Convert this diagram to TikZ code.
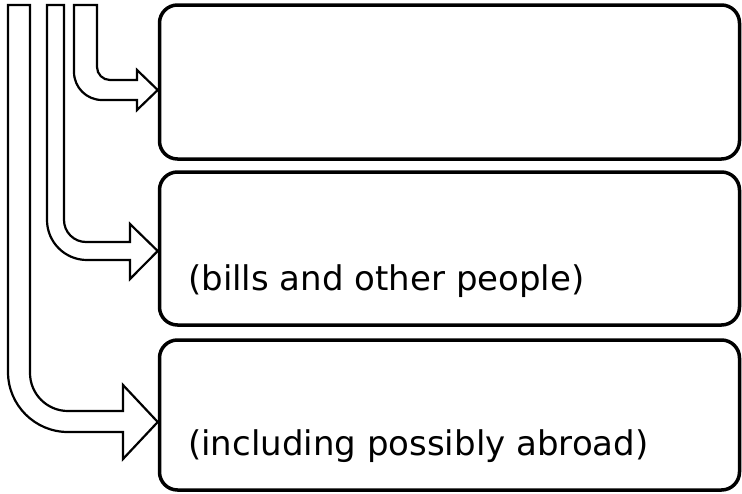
\documentclass[tikz,border=0pt]{standalone}
\usepackage{fontspec}
\setmainfont{DejaVu Sans}
\begin{document}
\begin{tikzpicture}[x=1pt,y=-1pt,
  box/.style={draw=black,line width=3.5pt,rounded corners=18pt,rectangle,inner sep=0pt,minimum width=580pt},
  blockarrow/.style={draw=black,line width=2.2pt,fill=white,line join=miter},
  txt/.style={anchor=base west,inner sep=0pt,font=\fontsize{34}{40}\selectfont}]
\useasboundingbox (0,0) rectangle (742,493);
% boxes
\node[box,minimum height=154pt] (b1) at (449.5,82) {};
\node[box,minimum height=153pt] (b2) at (449.5,248.5) {};
\node[box,minimum height=150pt] (b3) at (449.5,415) {};
\node[txt] (t2) at (188,290) {(bills and other people)};
\node[txt] (t3) at (188,455) {(including possibly abroad)};
% arrow 1
\draw[blockarrow] (74,5) -- (74,72) arc[start angle=180,end angle=90,radius=28]
  -- (137,100) -- (137,110) -- (b1.west |- 0,90) -- (137,70) -- (137,80) -- (110,80)
  arc[start angle=90,end angle=180,radius=13] -- (97,5) -- cycle;
% arrow 2
\draw[blockarrow] (47,5) -- (47,220) arc[start angle=180,end angle=90,radius=40]
  -- (130,260) -- (130,279) -- (b2.west |- 0,251) -- (130,224) -- (130,242) -- (86,242)
  arc[start angle=90,end angle=180,radius=22] -- (64,5) -- cycle;
% arrow 3
\draw[blockarrow] (8,5) -- (8,372) arc[start angle=180,end angle=90,radius=60]
  -- (123,432) -- (123,459) -- (b3.west |- 0,422) -- (123,385) -- (123,411) -- (68,411)
  arc[start angle=90,end angle=180,radius=38] -- (30,5) -- cycle;
\end{tikzpicture}
\end{document}
